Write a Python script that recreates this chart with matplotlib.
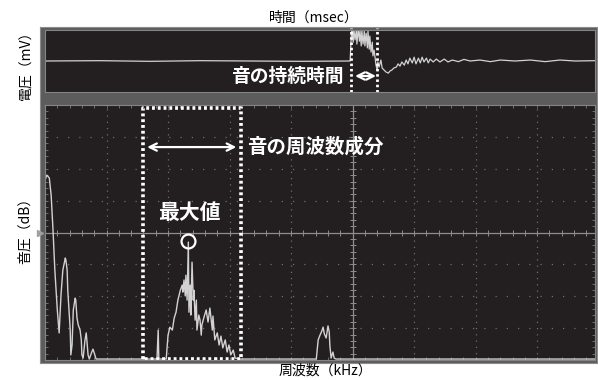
import matplotlib.pyplot as plt
import numpy as np

plt.rcParams['font.family'] = ['Noto Sans CJK JP', 'DejaVu Sans']

# Waveform (top screen): time in divisions, voltage in divisions
wave_t = [0.00, 0.89, 1.71, 2.52, 3.33, 4.15, 4.96,
          4.98, 4.99, 5.01, 5.02, 5.04, 5.06, 5.07, 5.09, 5.11, 5.12, 5.14, 5.15,
          5.17, 5.19, 5.20, 5.22, 5.24, 5.25, 5.27, 5.28, 5.30, 5.32, 5.33, 5.35,
          5.37, 5.38, 5.40, 5.41, 5.43, 5.46, 5.48, 5.51, 5.54, 5.58, 5.61, 5.64,
          5.67, 5.71, 5.74, 5.77, 5.80, 5.84, 5.87, 5.90, 5.93, 5.97, 6.00, 6.03,
          6.07, 6.10, 6.13, 6.16, 6.20, 6.23, 6.26, 6.31, 6.36, 6.42, 6.49, 6.55,
          6.62, 6.72, 6.81, 6.91, 7.07, 7.24, 7.40, 7.64, 7.89, 8.13, 8.37, 8.62, 8.94]
wave_v = [0.97, 0.98, 0.96, 0.98, 0.97, 0.96, 0.97,
          1.84, 1.94, 1.56, 1.97, 1.63, 1.94, 1.50, 1.97, 1.59, 1.91, 1.44, 1.94,
          1.50, 1.91, 1.44, 1.84, 1.38, 1.91, 1.34, 1.75, 1.25, 1.56, 1.13, 1.31,
          1.00, 0.84, 0.69, 0.94, 0.78, 1.00, 0.75, 0.69, 0.63, 0.59, 0.66, 0.69,
          0.75, 0.78, 0.88, 0.81, 0.94, 0.84, 1.00, 0.88, 1.06, 0.91, 1.09, 0.88,
          1.06, 0.91, 1.09, 0.94, 1.06, 0.91, 1.03, 0.94, 1.03, 0.94, 1.03, 0.94,
          1.00, 0.95, 1.02, 0.97, 1.00, 0.95, 1.00, 0.97, 1.00, 0.95, 1.00, 0.97, 0.98]

# Duration of the sound (start / end of the burst)
dur_start = 4.98
dur_end = 5.40

# Spectrum (bottom screen): frequency in divisions, level in divisions
spec_f = [0.00, 0.03, 0.07, 0.10, 0.13, 0.16, 0.20, 0.23, 0.26, 0.29, 0.33, 0.34,
          0.36, 0.37, 0.39, 0.41, 0.42, 0.44, 0.46, 0.49, 0.50, 0.52, 0.54, 0.57,
          0.59, 0.60, 0.62, 0.65, 0.67, 0.68, 0.70, 0.72, 0.76, 0.78, 0.81, 0.83,
          1.82, 1.84, 1.85, 1.97, 2.00, 2.03, 2.07, 2.10, 2.13, 2.16, 2.20, 2.23,
          2.24, 2.26, 2.28, 2.29, 2.31, 2.33, 2.34, 2.36, 2.37, 2.39, 2.41, 2.42,
          2.44, 2.46, 2.47, 2.50, 2.52, 2.54, 2.55, 2.59, 2.62, 2.65, 2.68, 2.72,
          2.73, 2.76, 2.80, 2.83, 2.86, 2.89, 2.93, 2.96, 2.99, 3.02, 3.06, 3.09,
          3.17, 4.41, 4.44, 4.47, 4.50, 4.52, 4.54, 4.57, 4.59, 4.60, 4.62, 4.63,
          4.65, 4.68, 4.70, 4.73, 8.94]
spec_db = [5.64, 5.80, 5.71, 5.17, 4.08, 2.82, 1.57, 0.85, 2.04, 2.82, 3.20, 3.13,
           2.82, 2.19, 1.57, 0.94, 0.16, 0.47, 1.57, 1.94, 1.88, 1.32, 1.10, 0.94,
           0.63, 0.16, 0.06, 0.63, 0.85, 0.63, 0.16, 0.03, 0.25, 0.34, 0.16, 0.03,
           0.03, 0.94, 0.03, 0.03, 0.78, 1.03, 0.94, 1.32, 1.50, 1.88, 2.19, 2.35,
           2.13, 2.51, 2.01, 2.66, 1.88, 3.70, 1.50, 2.35, 1.41, 3.07, 1.88, 2.19,
           1.25, 1.88, 0.94, 1.41, 1.25, 0.78, 1.10, 1.38, 1.57, 1.19, 1.63, 0.94,
           1.38, 0.63, 0.85, 0.47, 0.75, 0.38, 0.63, 0.25, 0.47, 0.16, 0.31, 0.06,
           0.03, 0.03, 0.63, 0.78, 0.91, 1.03, 0.82, 0.69, 0.94, 1.07, 0.88, 0.47,
           0.06, 0.25, 0.06, 0.03, 0.03]

# Frequency band of the sound
band_lo = 1.59
band_hi = 3.19

W, H = 598, 380
screen = '#231f20'
trace = '#d2d2d2'
grid_c = '#6e6e6e'


def box(x0, y0, x1, y1):
    return [x0 / W, 1 - y1 / H, (x1 - x0) / W, (y1 - y0) / H]


fig = plt.figure(figsize=(W / 100, H / 100), dpi=100)

# grey instrument frame behind both screens
bg = fig.add_axes(box(40, 27, 597, 363), zorder=0)
bg.set_facecolor('#5c5c5c')
bg.set_xticks([])
bg.set_yticks([])
for s in bg.spines.values():
    s.set_color('#8c8c8c')

# --- top: waveform
ax1 = fig.add_axes(box(45, 30, 595, 92), zorder=1)
ax1.set_facecolor(screen)
ax1.set_xlim(0, 8.94)
ax1.set_ylim(0, 1.94)
ax1.set_xticks([])
ax1.set_yticks([])
for s in ax1.spines.values():
    s.set_color('#858585')
ax1.plot(wave_t, wave_v, color=trace, lw=0.9)

for xv in (dur_start, dur_end):
    ax1.plot([xv, xv], [0, 2.0], color='white', lw=2.0,
             ls=(0, (0.9, 1.0)), clip_on=False)
ax1.annotate('', xy=(dur_end - 0.02, 0.5), xytext=(dur_start + 0.06, 0.5),
             arrowprops=dict(arrowstyle='<->', color='white', lw=1.6,
                             mutation_scale=13, shrinkA=0, shrinkB=0))
ax1.text(dur_start - 0.13, 0.5, '音の持続時間', color='white', fontsize=13.5,
         fontweight='bold', ha='right', va='center')

# --- bottom: spectrum
ax2 = fig.add_axes(box(45, 105, 595, 360), zorder=1)
ax2.set_facecolor(screen)
ax2.set_xlim(0, 8.94)
ax2.set_ylim(0, 8)
for s in ax2.spines.values():
    s.set_color('#858585')
ax2.set_xticks(np.arange(0, 8.95, 0.2))
ax2.set_yticks(np.arange(0, 8.01, 0.2))
ax2.tick_params(direction='in', length=2.5, width=0.7, color=grid_c,
                labelbottom=False, labelleft=False,
                top=True, right=True)

for xv in [1, 2, 3, 4, 6, 7, 8]:
    ax2.axvline(xv, color=grid_c, lw=0.9, ls=(0, (1, 4)))
for yv in [1, 2, 3, 5, 6, 7]:
    ax2.axhline(yv, color=grid_c, lw=0.9, ls=(0, (1, 8)))
ax2.axvline(5, color='#8e8e8e', lw=0.9)
ax2.axhline(4, color='#8e8e8e', lw=0.9)
xt = np.arange(0, 8.95, 0.2)
yt = np.arange(0, 8.01, 0.2)
ax2.plot(xt, np.full_like(xt, 4), ls='none', marker='|', ms=4, color='#8e8e8e', mew=0.7)
ax2.plot(np.full_like(yt, 5), yt, ls='none', marker='_', ms=5, color='#8e8e8e', mew=0.7)
ax2.plot([-0.08], [4], marker='>', ms=4, color='#a0a0a0', clip_on=False)

ax2.plot(spec_f, spec_db, color=trace, lw=1.0)

# band box and arrow
ax2.plot([band_lo, band_lo, band_hi, band_hi, band_lo],
         [0.03, 7.9, 7.9, 0.03, 0.03], color='white', lw=2.6,
         ls=(0, (0.8, 0.8)), dash_capstyle='butt')
ax2.annotate('', xy=(band_hi - 0.08, 6.68), xytext=(band_lo + 0.07, 6.68),
             arrowprops=dict(arrowstyle='<->', color='white', lw=1.6,
                             mutation_scale=13, shrinkA=0, shrinkB=0))
ax2.text(band_hi + 0.1, 6.68, '音の周波数成分', color='white', fontsize=14,
         fontweight='bold', ha='left', va='center')

# maximum of the spectrum
i_max = int(np.argmax(spec_db[36:])) + 36
pk_f, pk_db = spec_f[i_max], spec_db[i_max]
ax2.plot([pk_f], [pk_db + 0.03], marker='o', ms=10, mfc='none', mec='white', mew=1.6)
ax2.annotate('最大値', xy=(pk_f, pk_db), xytext=(1, 21), textcoords='offset points',
             color='white', fontsize=15, fontweight='bold', ha='center', va='center')

# axis titles
fig.text(314 / W, 1 - 17.5 / H, '時間（msec）', fontsize=10, ha='center', va='center')
fig.text(26 / W, 1 - 62 / H, '電圧（mV）', fontsize=10, rotation=90,
         ha='center', va='center')
fig.text(25 / W, 1 - 227 / H, '音圧（dB）', fontsize=10, rotation=90,
         ha='center', va='center')
fig.text(325 / W, 1 - 371 / H, '周波数（kHz）', fontsize=10, ha='center', va='center')

fig.savefig('out.png', dpi=100, facecolor='white')
